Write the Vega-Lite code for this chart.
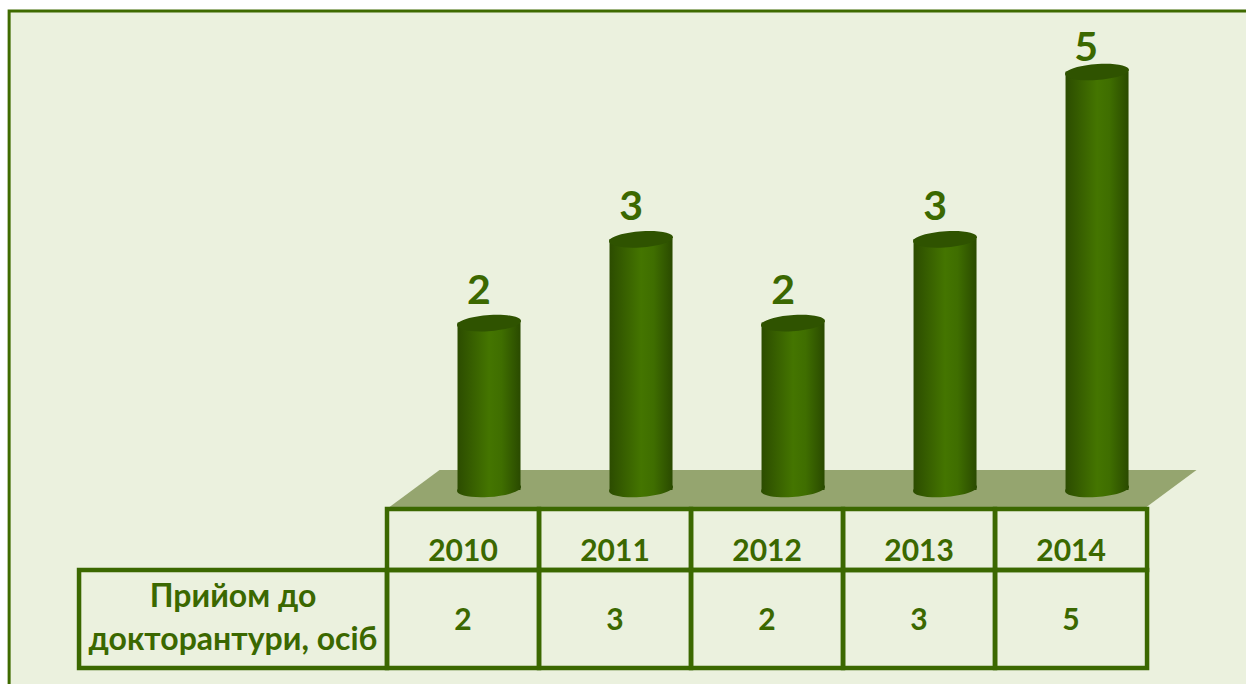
{
"$schema":"https://vega.github.io/schema/vega-lite/v6.json",
"width":1246,"height":684,
"autosize":"none",
"padding":0,
"background":"#ffffff",
"config":{"view":{"stroke":null}},
"datasets":{
"vals":[{"year":2010,"value":2},{"year":2011,"value":3},{"year":2012,"value":2},{"year":2013,"value":3},{"year":2014,"value":5}],
"frame":[{"x0":2007.014,"x1":2016,"y0":5.722,"y1":-3}],
"floor":[{"year":2012,"value":0}],
"cells":[
{"x0":2007.474,"x1":2009.5,"y0":-0.956,"y1":-2.127},
{"x0":2009.5,"x1":2010.5,"y0":-0.227,"y1":-0.956},{"x0":2010.5,"x1":2011.5,"y0":-0.227,"y1":-0.956},{"x0":2011.5,"x1":2012.5,"y0":-0.227,"y1":-0.956},{"x0":2012.5,"x1":2013.5,"y0":-0.227,"y1":-0.956},{"x0":2013.5,"x1":2014.5,"y0":-0.227,"y1":-0.956},
{"x0":2009.5,"x1":2010.5,"y0":-0.956,"y1":-2.127},{"x0":2010.5,"x1":2011.5,"y0":-0.956,"y1":-2.127},{"x0":2011.5,"x1":2012.5,"y0":-0.956,"y1":-2.127},{"x0":2012.5,"x1":2013.5,"y0":-0.956,"y1":-2.127},{"x0":2013.5,"x1":2014.5,"y0":-0.956,"y1":-2.127}
],
"rowLabels":[{"year":2008.487,"value":-1.278,"caption":"Прийом до"},{"year":2008.487,"value":-1.79,"caption":"докторантури, осіб"}]
},
"data":{"name":"vals"},
"encoding":{
"x":{"field":"year","type":"quantitative","scale":{"domain":[2006.954,2015.151],"nice":false,"zero":false,"padding":0},"axis":null},
"y":{"field":"value","type":"quantitative","scale":{"domain":[-2.318,5.854],"nice":false,"zero":false},"axis":null}
},
"layer":[
{"data":{"name":"frame"},"mark":{"type":"rect","fill":"#EBF1DE","stroke":"#3F6B00","strokeWidth":3,"clip":true},
"encoding":{"x":{"field":"x0","type":"quantitative"},"x2":{"field":"x1"},"y":{"field":"y0","type":"quantitative"},"y2":{"field":"y1"}}},
{"data":{"name":"floor"},"mark":{"type":"point","filled":true,"opacity":1,"fill":"#95A56F","strokeWidth":0,"size":651249,"xOffset":26,"yOffset":-1.5,"shape":"M-1,.0458L-.876,-.0458L1,-.0458L.876,.0458Z"}},
{"data":{"name":"cells"},"mark":{"type":"rect","fill":null,"stroke":"#3B6800","strokeWidth":4.5},
"encoding":{"x":{"field":"x0","type":"quantitative"},"x2":{"field":"x1"},"y":{"field":"y0","type":"quantitative"},"y2":{"field":"y1"}}},
{"mark":{"type":"point","filled":true,"opacity":1,"strokeWidth":0,"size":4096,"xOffset":26,"yOffset":-1,
"fill":{"gradient":"linear","x1":0,"x2":1,"y1":0,"y2":0,"stops":[{"offset":0,"color":"#2C4C00"},{"offset":0.5,"color":"#447500"},{"offset":0.7,"color":"#3F6E00"},{"offset":1,"color":"#2A4A00"}]},
"shape":"M-1,.06A1,.25 -4 1 1 1,-.06A1,.25 -4 1 1 -1,.06Z"},
"encoding":{"y":{"datum":0}}},
{"mark":{"type":"bar","width":63,"xOffset":26,
"fill":{"gradient":"linear","x1":0,"x2":1,"y1":0,"y2":0,"stops":[{"offset":0,"color":"#2C4C00"},{"offset":0.5,"color":"#447500"},{"offset":0.7,"color":"#3F6E00"},{"offset":1,"color":"#2A4A00"}]}},
"encoding":{"y2":{"datum":0}}},
{"mark":{"type":"point","filled":true,"opacity":1,"fill":"#2F5300","strokeWidth":0,"size":4096,"xOffset":26,"yOffset":0.5,
"shape":"M-1,.06A1,.25 -4 1 1 1,-.06A1,.25 -4 1 1 -1,.06Z"}},
{"transform":[{"filter":"datum.value < 5"}],"mark":{"type":"text","font":"Lato","fontWeight":"bold","fontSize":41,"color":"#3B6800","baseline":"middle","dy":-31,"dx":16},
"encoding":{"text":{"field":"value","type":"quantitative"}}},
{"transform":[{"filter":"datum.value == 5"}],"mark":{"type":"text","font":"Lato","fontWeight":"bold","fontSize":41,"color":"#3B6800","baseline":"middle","dy":-22,"dx":15},
"encoding":{"text":{"field":"value","type":"quantitative"}}},
{"mark":{"type":"text","font":"Lato","fontWeight":"bold","fontSize":30,"color":"#3B6800","baseline":"middle"},
"encoding":{"y":{"datum":-0.74},"text":{"field":"year","type":"quantitative","format":"d"}}},
{"mark":{"type":"text","font":"Lato","fontWeight":"bold","fontSize":30,"color":"#3B6800","baseline":"middle"},
"encoding":{"y":{"datum":-1.565},"text":{"field":"value","type":"quantitative"}}},
{"data":{"name":"rowLabels"},"mark":{"type":"text","font":"Lato","fontWeight":"bold","fontSize":32,"color":"#3B6800","baseline":"middle"},
"encoding":{"text":{"field":"caption","type":"nominal"}}}
]
}
